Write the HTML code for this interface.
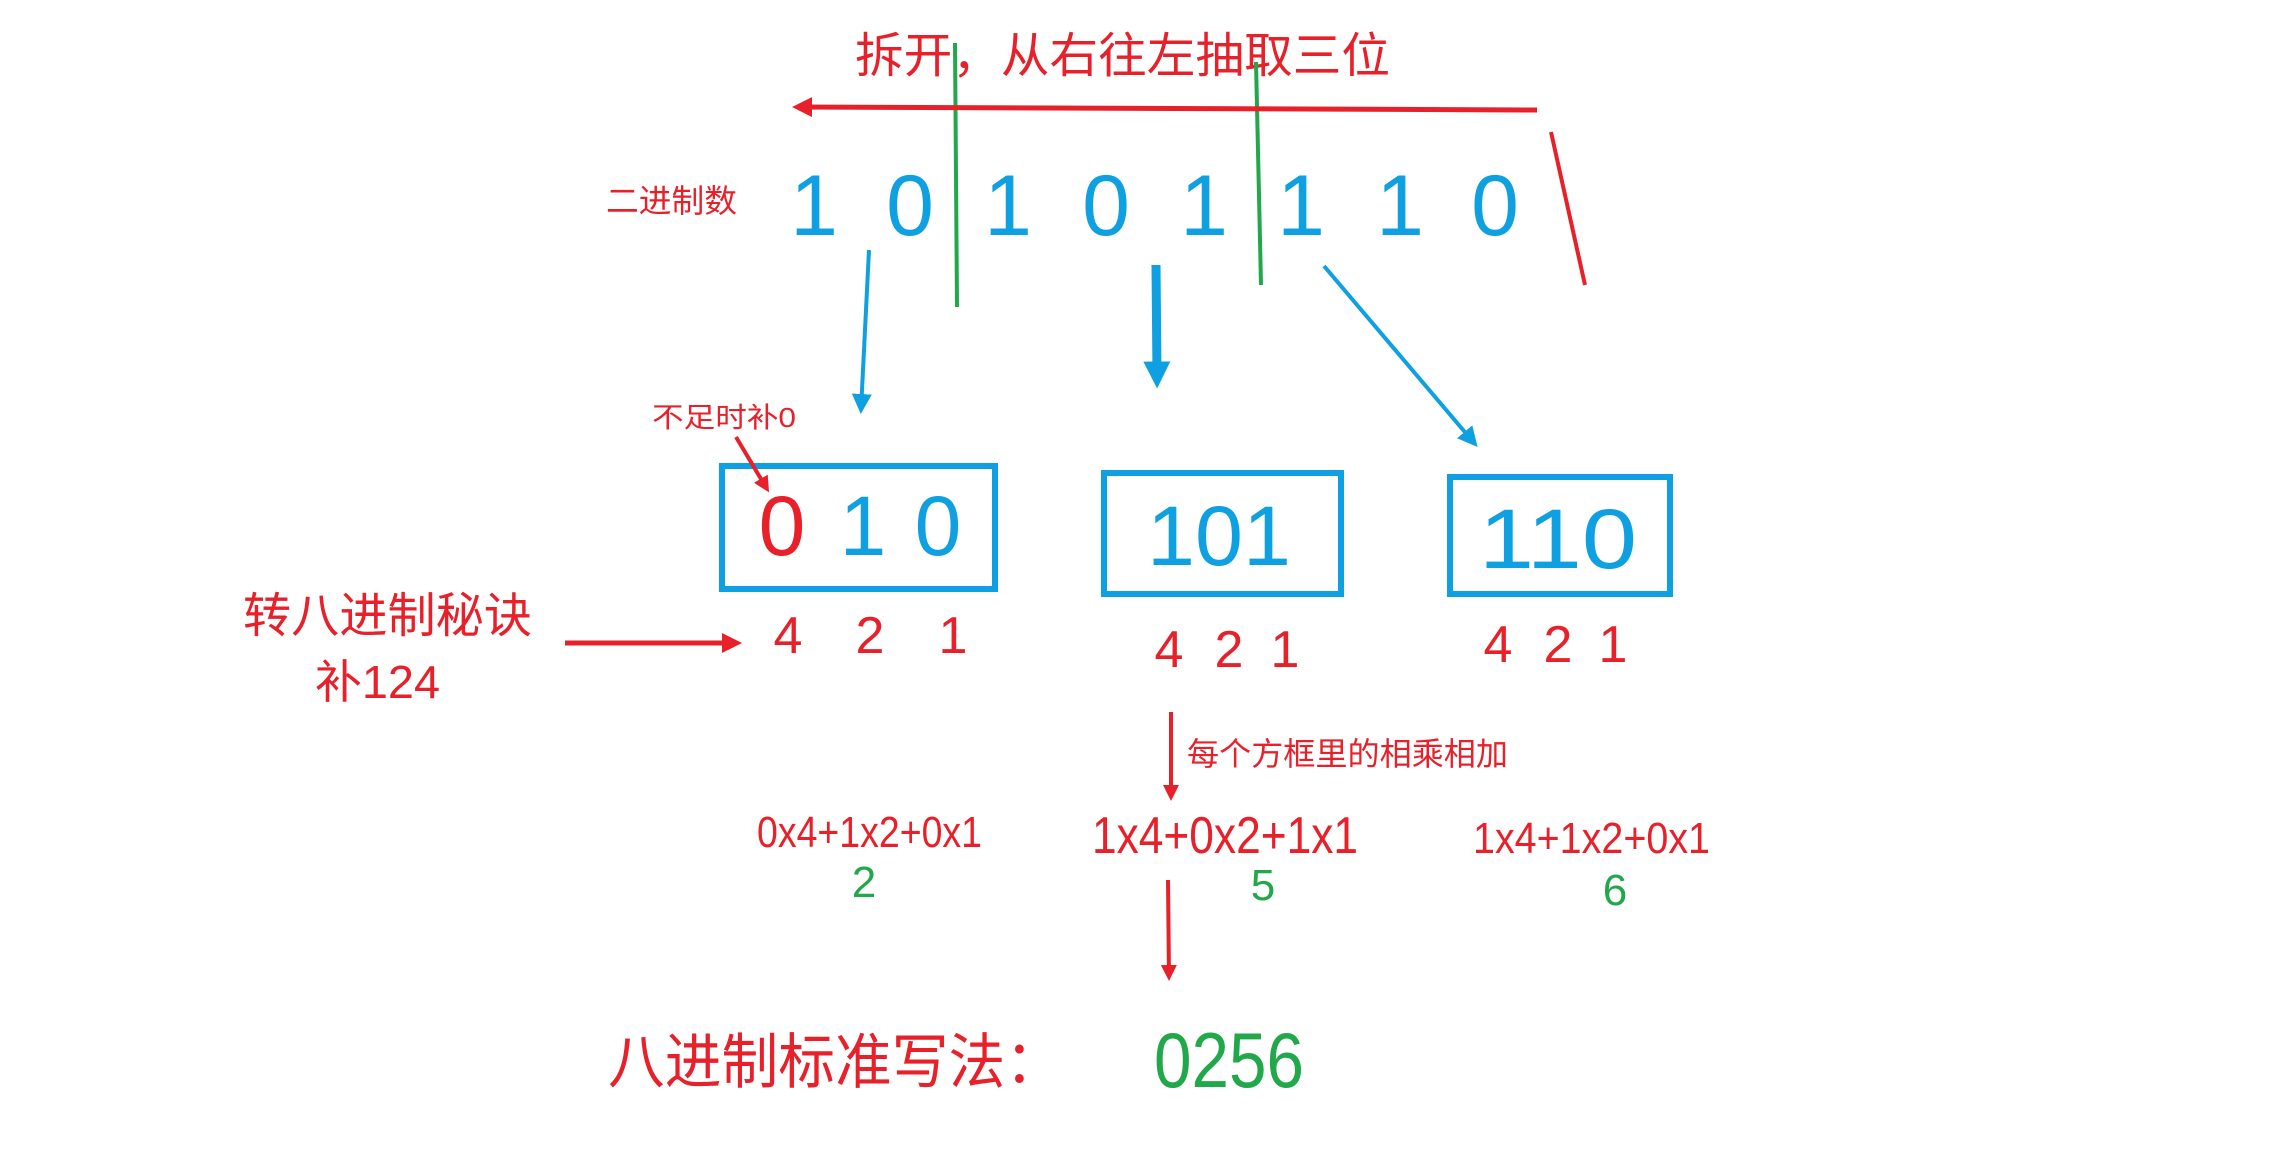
<!DOCTYPE html>
<html><head><meta charset="utf-8"><style>
html,body{margin:0;padding:0;background:#fff;}
svg{display:block;}
text{font-family:"Liberation Sans","Noto Sans CJK SC",sans-serif;}
</style></head><body>
<svg width="2285" height="1169" viewBox="0 0 2285 1169" xmlns="http://www.w3.org/2000/svg">
<defs>
<marker id="ar" markerWidth="4" markerHeight="4" refX="3" refY="2" orient="auto" markerUnits="strokeWidth"><path d="M0,0 L4,2 L0,4 z" fill="#e8202a"/></marker>
<marker id="ab" markerWidth="5" markerHeight="5" refX="4" refY="2.5" orient="auto" markerUnits="strokeWidth"><path d="M0,0 L5,2.5 L0,5 z" fill="#0ea0e0"/></marker>
<marker id="ab2" markerWidth="3" markerHeight="3" refX="1.5" refY="1.5" orient="auto" markerUnits="strokeWidth"><path d="M0,0 L3,1.5 L0,3 z" fill="#0ea0e0"/></marker>
</defs>
<g fill="#e8202a">
<text x="855" y="72" font-size="48" textLength="535" lengthAdjust="spacingAndGlyphs">拆开，从右往左抽取三位</text>
<text x="606" y="212" font-size="32" textLength="131" lengthAdjust="spacingAndGlyphs">二进制数</text>
<text x="652" y="427" font-size="28" textLength="144" lengthAdjust="spacingAndGlyphs">不足时补0</text>
<text x="243" y="632" font-size="48" textLength="289" lengthAdjust="spacingAndGlyphs">转八进制秘诀</text>
<text x="315" y="698" font-size="46" textLength="125" lengthAdjust="spacingAndGlyphs">补124</text>
<text x="1187" y="765" font-size="32" textLength="321" lengthAdjust="spacingAndGlyphs">每个方框里的相乘相加</text>
<text x="757" y="847" font-size="44" textLength="225" lengthAdjust="spacingAndGlyphs">0x4+1x2+0x1</text>
<text x="1092" y="853" font-size="52" textLength="266" lengthAdjust="spacingAndGlyphs">1x4+0x2+1x1</text>
<text x="1473" y="853" font-size="44" textLength="237" lengthAdjust="spacingAndGlyphs">1x4+1x2+0x1</text>
<text x="608" y="1083" font-size="60" textLength="454" lengthAdjust="spacingAndGlyphs">八进制标准写法：</text>
<g font-size="52" text-anchor="middle">
<text x="788" y="653">4</text><text x="870" y="653">2</text><text x="953" y="653">1</text>
<text x="1169" y="667">4</text><text x="1229" y="667">2</text><text x="1285" y="667">1</text>
<text x="1498" y="662">4</text><text x="1558" y="662">2</text><text x="1613" y="662">1</text>
</g>
</g>
<g fill="#20a84a" text-anchor="middle">
<text x="864" y="897" font-size="44">2</text>
<text x="1263" y="900" font-size="44">5</text>
<text x="1615" y="905" font-size="44">6</text>
<text x="1229" y="1087" font-size="78" textLength="150" lengthAdjust="spacingAndGlyphs">0256</text>
</g>
<g fill="#0ea0e0" font-size="86" text-anchor="middle">
<text x="814" y="235">1</text><text x="910" y="235">0</text><text x="1008" y="235">1</text><text x="1106" y="235">0</text>
<text x="1204" y="235">1</text><text x="1301" y="235">1</text><text x="1400" y="235">1</text><text x="1495" y="235">0</text>
</g>
<g font-size="84" text-anchor="middle">
<text x="782" y="555" fill="#e8202a">0</text><text x="863" y="555" fill="#0ea0e0">1</text><text x="938" y="555" fill="#0ea0e0">0</text>
<text x="1219" y="565" fill="#0ea0e0" textLength="144" lengthAdjust="spacingAndGlyphs">101</text>
<text x="1558" y="568" fill="#0ea0e0" textLength="158" lengthAdjust="spacingAndGlyphs">110</text>
</g>
<g fill="none" stroke="#0ea0e0" stroke-width="6">
<rect x="722" y="466" width="273" height="123"/>
<rect x="1104" y="473" width="237" height="121"/>
<rect x="1450" y="477" width="220" height="117"/>
</g>
<g stroke="#20a84a" stroke-width="4">
<line x1="955" y1="43" x2="957" y2="307"/>
<line x1="1256" y1="62" x2="1261" y2="285"/>
</g>
<g stroke="#e8202a" fill="none">
<line x1="1537" y1="110" x2="797" y2="107" stroke-width="5" marker-end="url(#ar)"/>
<line x1="1551" y1="132" x2="1585" y2="285" stroke-width="4"/>
<line x1="736" y1="437" x2="767" y2="489" stroke-width="4" marker-end="url(#ar)"/>
<line x1="565" y1="643" x2="737" y2="643" stroke-width="5" marker-end="url(#ar)"/>
<line x1="1171" y1="712" x2="1171" y2="797" stroke-width="4" marker-end="url(#ar)"/>
<line x1="1168" y1="880" x2="1169" y2="977" stroke-width="4" marker-end="url(#ar)"/>
</g>
<g stroke="#0ea0e0" fill="none">
<line x1="869" y1="250" x2="861" y2="410" stroke-width="4" marker-end="url(#ab)"/>
<line x1="1156" y1="265" x2="1157" y2="375" stroke-width="9" marker-end="url(#ab2)"/>
<line x1="1324" y1="266" x2="1475" y2="444" stroke-width="4" marker-end="url(#ab)"/>
</g>
</svg>
</body></html>
